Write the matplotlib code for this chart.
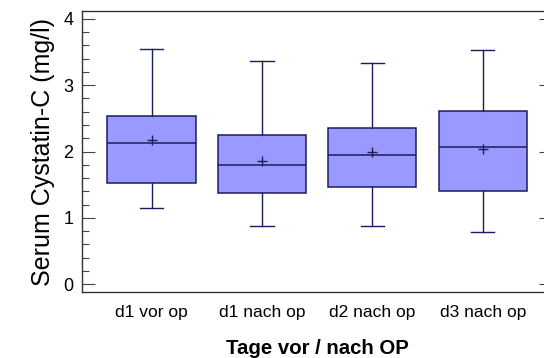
import matplotlib
matplotlib.use("Agg")
import matplotlib.pyplot as plt
from matplotlib.ticker import MultipleLocator

plt.rcParams['font.family'] = ['Liberation Sans', 'DejaVu Sans']

categories = ["d1 vor op", "d1 nach op", "d2 nach op", "d3 nach op"]
whisker_low = [1.155, 0.88, 0.87, 0.79]
q1 = [1.52, 1.37, 1.46, 1.40]
median = [2.13, 1.79, 1.95, 2.07]
q3 = [2.53, 2.25, 2.36, 2.61]
whisker_high = [3.54, 3.36, 3.33, 3.53]
mean = [2.17, 1.86, 1.985, 2.04]

stats = []
for i, name in enumerate(categories):
    stats.append(dict(label=name, whislo=whisker_low[i], q1=q1[i], med=median[i],
                      q3=q3[i], whishi=whisker_high[i], mean=mean[i]))

W, H = 544, 358
fig = plt.figure(figsize=(W / 100, H / 100), dpi=100)
left, right, top, bottom = 82.3, 552, 11, 292
ax = fig.add_axes([left / W, 1 - bottom / H, (right - left) / W, (bottom - top) / H])

edge = "#1c1c5c"
fill = "#9999ff"
bp = ax.bxp(stats, positions=range(1, 5), widths=0.8, capwidths=0.21,
            showmeans=True, patch_artist=True, showfliers=False,
            boxprops=dict(facecolor=fill, edgecolor=edge, linewidth=1.1),
            medianprops=dict(color=edge, linewidth=1.1),
            whiskerprops=dict(color=edge, linewidth=1.0),
            capprops=dict(color=edge, linewidth=1.0),
            meanprops=dict(marker='+', markeredgecolor=edge, markersize=7.5,
                           markeredgewidth=1.0))

ax.set_xlim(0.372, 4.628)
ax.set_ylim(-0.12, 4.12)
ax.yaxis.set_major_locator(MultipleLocator(1))
ax.yaxis.set_minor_locator(MultipleLocator(0.2))

for s in ax.spines.values():
    s.set_color("#333333")
    s.set_linewidth(1.0)

ax.tick_params(axis='y', which='major', direction='in', length=9.4, width=0.8,
               color="#444444", labelsize=13, pad=6.5, right=True)
ax.tick_params(axis='y', which='minor', direction='in', length=5, width=0.8,
               color="#444444", right=True)
ax.tick_params(axis='x', which='both', length=0, labelsize=12.5, pad=9)

ax.set_xticks(range(1, 5))
ax.set_xticklabels(categories)

ax.set_ylabel("Serum Cystatin-C (mg/l)", fontsize=18, labelpad=6)
ax.set_xlabel("Tage vor / nach OP", fontsize=14.7, fontweight='bold', labelpad=14)

fig.savefig("out.png", dpi=100)
